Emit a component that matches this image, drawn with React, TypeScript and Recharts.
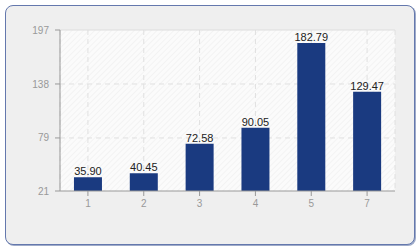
import { BarChart, Bar, XAxis, YAxis, CartesianGrid, LabelList, ReferenceLine } from 'recharts';

// values
const categories = ['1', '2', '3', '4', '5', '7'];
const values = [35.9, 40.45, 72.58, 90.05, 182.79, 129.47];
const yTicks = [21, 79, 138, 197];

const data = categories.map((c, i) => ({ name: c, value: values[i] }));

export default function App() {
  return (
    <div style={{ position: 'absolute', left: 0, top: 0, width: 420, height: 250, fontFamily: '"Liberation Sans", Arial, sans-serif' }}>
      {/* rounded frame */}
      <div
        style={{
          position: 'absolute',
          left: 5,
          top: 5,
          width: 408,
          height: 238,
          border: '1px solid #6478ad',
          borderRadius: 8,
          background: '#efefef',
          boxShadow: '1px 1px 0 #9fabc9',
        }}
      />
      <div style={{ position: 'absolute', left: 0, top: 0 }}>
        <BarChart width={420} height={250} data={data} margin={{ top: 30, right: 25, bottom: 29, left: 0 }} barCategoryGap="25%">
          <defs>
            <pattern id="hatch" width="4" height="4" patternUnits="userSpaceOnUse" patternTransform="rotate(45)">
              <rect width="4" height="4" fill="#fbfbfb" />
              <line x1="0" y1="0" x2="0" y2="4" stroke="#ececec" strokeWidth="1" />
            </pattern>
          </defs>
          <CartesianGrid
            yAxisId="left"
            fill="url(#hatch)"
            stroke="#e0e0e0"
            strokeDasharray="5 4"
            horizontalValues={[79, 138]}
          />
          <XAxis
            dataKey="name"
            height={30}
            tickSize={5}
            tickMargin={4}
            stroke="#999"
            tick={{ fontSize: 10, fill: '#999' }}
          />
          <YAxis
            yAxisId="left"
            width={60}
            domain={[21, 197]}
            ticks={yTicks}
            interval={0}
            tickSize={5}
            tickMargin={6}
            stroke="#999"
            tick={{ fontSize: 10, fill: '#999' }}
            allowDataOverflow
          />
          <YAxis yAxisId="right" orientation="right" width={0} stroke="#ddd" tick={false} tickLine={false} domain={[21, 197]} />
          <ReferenceLine yAxisId="left" y={197} stroke="#ddd" />
          <Bar yAxisId="left" dataKey="value" fill="#1a3a80" isAnimationActive={false}>
            <LabelList
              dataKey="value"
              position="top"
              offset={2}
              formatter={(v: number) => v.toFixed(2)}
              style={{ fontSize: 11, fill: '#222' }}
            />
          </Bar>
        </BarChart>
      </div>
    </div>
  );
}
